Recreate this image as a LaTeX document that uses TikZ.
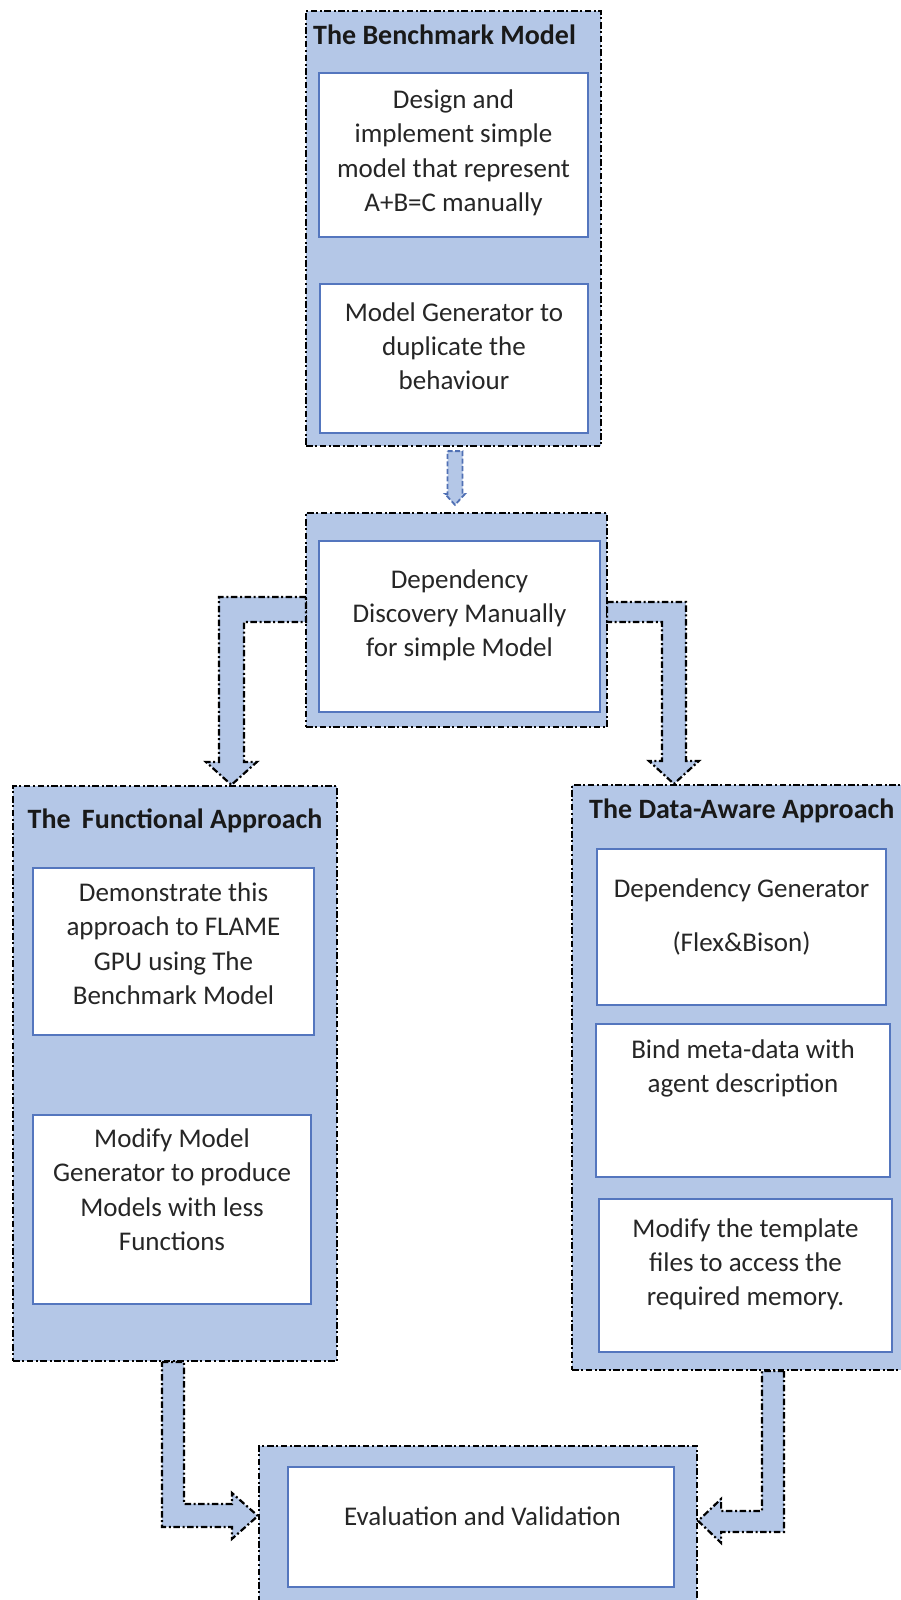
\documentclass[tikz,border=0pt]{standalone}
\usepackage{fontspec}
\setmainfont{Carlito}
\usetikzlibrary{calc,fit}
\definecolor{panelblue}{RGB}{180,199,231}
\definecolor{cardedge}{RGB}{84,118,190}
\definecolor{arrowedge}{RGB}{80,112,180}
\begin{document}
\begin{tikzpicture}[x=1pt,y=-1pt,
  dashdot/.style={line width=2.2pt,dash pattern=on 6.5pt off 2.6pt on 2pt off 2.6pt},
  panel/.style={fill=panelblue,draw=black,dashdot,inner sep=0pt},
  card/.style={fill=white,draw=cardedge,line width=1.4pt,inner sep=0pt},
  blockarrow/.style={fill=panelblue,draw=black,dashdot,line join=miter},
  smallarrow/.style={fill=panelblue,draw=arrowedge,line width=1.8pt,dash pattern=on 5pt off 2.5pt},
  label/.style={font=\fontsize{27}{34.3}\selectfont,align=center,anchor=base,inner sep=0pt,text=black!85},
  heading/.style={font=\fontsize{28}{34}\selectfont\bfseries,inner sep=0pt,text=black!90},
]
\fill[white] (0,0) rectangle (901,1600);
\useasboundingbox (0,0) rectangle (901,1600);
\clip (0,0) rectangle (901,1600);

% corner points of the outer panels and the white cards
\coordinate (p1a) at (306,11);   \coordinate (p1b) at (601,446);
\coordinate (p2a) at (306,513);  \coordinate (p2b) at (607,727);
\coordinate (p3a) at (13,786);   \coordinate (p3b) at (337,1361);
\coordinate (p4a) at (572,785);  \coordinate (p4b) at (914,1370);
\coordinate (p5a) at (259,1446); \coordinate (p5b) at (697,1612);

\coordinate (c1a) at (319,73);   \coordinate (c1b) at (588,237);
\coordinate (c2a) at (320,284);  \coordinate (c2b) at (588,433);
\coordinate (c3a) at (319,541);  \coordinate (c3b) at (600,712);
\coordinate (c4a) at (33,868);   \coordinate (c4b) at (314,1035);
\coordinate (c5a) at (33,1115);  \coordinate (c5b) at (311,1304);
\coordinate (c6a) at (597,849);  \coordinate (c6b) at (886,1005);
\coordinate (c7a) at (596,1024); \coordinate (c7b) at (890,1177);
\coordinate (c8a) at (599,1199); \coordinate (c8b) at (892,1352);
\coordinate (c9a) at (288,1467); \coordinate (c9b) at (674,1587);

% outer panels
\node[panel,fit=(p1a)(p1b)] (bench) {};
\node[panel,fit=(p2a)(p2b)] (dep) {};
\node[panel,fit=(p3a)(p3b)] (func) {};
\node[panel,fit=(p4a)(p4b)] (data) {};
\node[panel,fit=(p5a)(p5b)] (eval) {};

% white cards
\node[card,fit=(c1a)(c1b)] (design) {};
\node[card,fit=(c2a)(c2b)] (gen) {};
\node[card,fit=(c3a)(c3b)] (disc) {};
\node[card,fit=(c4a)(c4b)] (demo) {};
\node[card,fit=(c5a)(c5b)] (modgen) {};
\node[card,fit=(c6a)(c6b)] (depgen) {};
\node[card,fit=(c7a)(c7b)] (bind) {};
\node[card,fit=(c8a)(c8b)] (tmpl) {};
\node[card,fit=(c9a)(c9b)] (valid) {};

% headings
\node[heading,anchor=base west] (hbench) at (313,45) {The Benchmark Model};
\node[heading,anchor=base] (hfunc) at (175,828) {The\kern5pt\ Functional Approach};
\node[heading,anchor=base west] (hdata) at (589,818) {The Data-Aware Approach};

% card texts (placed by the baseline of their last line)
\node[label] (tdesign) at ($(design.north)+(0,139)$) {Design and\\implement simple\\model that represent\\A+B=C manually};
\node[label] (tgen) at ($(gen.north)+(0,106.6)$) {Model Generator to\\duplicate the\\behaviour};
\node[label] (tdisc) at ($(disc.north)+(0,116.6)$) {Dependency\\Discovery Manually\\for simple Model};
\node[label] (tdemo) at ($(demo.north)+(0,137)$) {Demonstrate this\\approach to FLAME\\GPU using The\\Benchmark Model};
\node[label] (tmodgen) at ($(modgen.north)+(0,136)$) {Modify Model\\Generator to produce\\Models with less\\Functions};
\node[label] (tdepgen) at ($(depgen.north)+(0,49)$) {Dependency Generator};
\node[label] (tflex) at ($(depgen.north)+(0,103)$) {(Flex\&Bison)};
\node[label] (tbind) at ($(bind.north)+(0,69.3)$) {Bind meta-data with\\agent description};
\node[label] (ttmpl) at ($(tmpl.north)+(0,107.6)$) {Modify the template\\files to access the\\required memory.};
\node[label] (tvalid) at ($(valid.north)+(1.5,59)$) {Evaluation and Validation};

% small dashed arrow between the first two panels
\coordinate (sa) at ($(bench.south)+(1.5,4)$);
\coordinate (sb) at ($(dep.north)+(-1.5,-7)$);
\draw[smallarrow] ($(sa)+(-7.5,0)$) -- ($(sa)+(7.5,0)$) -- ($(sa |- sb)+(7.5,-11)$)
  -- ($(sa |- sb)+(10,-11)$) -- (sb) -- ($(sa |- sb)+(-10,-11)$)
  -- ($(sa |- sb)+(-7.5,-11)$) -- cycle;

% bent block arrow to the functional approach
\coordinate (la) at ($(dep.north west)+(1,85)$);
\coordinate (lb) at ($(func.north west)+(219.5,0)$);
\draw[blockarrow] (la) -- ($(la -| lb)+(-12.5,0)$) -- ($(lb)+(-12.5,-23)$)
  -- ($(lb)+(-25.5,-23)$) -- (lb) -- ($(lb)+(25.5,-23)$) -- ($(lb)+(12.5,-23)$)
  -- ($(la -| lb)+(12.5,25)$) -- ($(la)+(0,25)$) -- cycle;

% bent block arrow to the data-aware approach
\coordinate (ra) at ($(dep.north east)+(-1,90)$);
\coordinate (rb) at ($(data.north west)+(103,0)$);
\draw[blockarrow] (ra) -- ($(ra -| rb)+(12,0)$) -- ($(rb)+(12,-23)$)
  -- ($(rb)+(25,-23)$) -- (rb) -- ($(rb)+(-25,-23)$) -- ($(rb)+(-12,-23)$)
  -- ($(ra -| rb)+(-12,20)$) -- ($(ra)+(0,20)$) -- cycle;

% block arrow from the functional approach into the evaluation
\coordinate (ba) at ($(func.south west)+(150,0)$);
\coordinate (bb) at ($(eval.north west)+(0,71)$);
\draw[blockarrow] (ba) -- ($(ba)+(22,0)$) -- ($(ba |- bb)+(22,-12)$)
  -- ($(bb)+(-26,-12)$) -- ($(bb)+(-26,-23)$) -- (bb) -- ($(bb)+(-26,23)$)
  -- ($(bb)+(-26,11)$) -- ($(ba |- bb)+(0,11)$) -- cycle;

% block arrow from the data-aware approach into the evaluation
\coordinate (ca) at ($(data.south west)+(191,0)$);
\coordinate (cb) at ($(eval.north east)+(0,76)$);
\draw[blockarrow] ($(ca)+(22,0)$) -- ($(ca |- cb)+(22,11)$) -- ($(cb)+(23,11)$)
  -- ($(cb)+(23,22)$) -- (cb) -- ($(cb)+(23,-22)$) -- ($(cb)+(23,-10)$)
  -- ($(ca |- cb)+(0,-10)$) -- (ca) -- cycle;
\end{tikzpicture}
\end{document}
